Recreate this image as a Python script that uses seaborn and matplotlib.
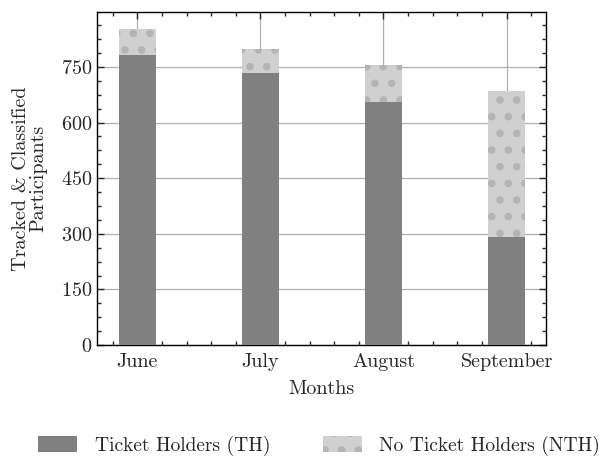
import pandas as pd
import matplotlib
matplotlib.use("Agg")
import matplotlib.pyplot as plt
import seaborn as sns
from matplotlib.ticker import AutoMinorLocator, MultipleLocator

months = ["June", "July", "August", "September"]
ticket_holders = [782, 734, 655, 291]
no_ticket_holders = [70, 64, 100, 394]

df = pd.DataFrame({
    "Month": months,
    "TH": ticket_holders,
    "NTH": no_ticket_holders,
})
df["Total"] = df["TH"] + df["NTH"]

sns.set_style("ticks")
plt.rcParams["font.family"] = "serif"
plt.rcParams["font.serif"] = ["cmr10", "DejaVu Serif"]
plt.rcParams["axes.formatter.use_mathtext"] = True
plt.rcParams["mathtext.fontset"] = "cm"
plt.rcParams["font.size"] = 14.5
plt.rcParams["hatch.linewidth"] = 3

fig, ax = plt.subplots(figsize=(6.08, 4.62), dpi=100)
fig.subplots_adjust(left=0.16, right=0.898, top=0.974, bottom=0.253)

sns.barplot(data=df, x="Month", y="Total", color="#d0d0d0", saturation=1,
            width=0.3, hatch=".", edgecolor="#b4b4b4", linewidth=0,
            label="No Ticket Holders (NTH)", ax=ax, zorder=2)
sns.barplot(data=df, x="Month", y="TH", color="#808080", saturation=1,
            width=0.3, linewidth=0, label="Ticket Holders (TH)",
            ax=ax, zorder=3)

ax.grid(True, which="major", color="#b0b0b0", linewidth=0.9)
ax.set_axisbelow(True)

ax.set_xlim(-0.325, 3.32)
ax.set_ylim(0, 898)
ax.yaxis.set_major_locator(MultipleLocator(150))
ax.yaxis.set_minor_locator(AutoMinorLocator(4))
ax.xaxis.set_minor_locator(MultipleLocator(0.2))
ax.tick_params(which="both", direction="in", top=True, right=True, width=1)
ax.tick_params(which="major", length=5)
ax.tick_params(which="minor", length=3)
ax.tick_params(axis="x", pad=6)
for s in ax.spines.values():
    s.set_linewidth(1)
    s.set_color("black")

ax.set_xlabel("Months", labelpad=6)
ax.set_ylabel("Tracked & Classified\nParticipants", linespacing=0.95, labelpad=10)

handles, labels = ax.get_legend_handles_labels()
if ax.get_legend() is not None:
    ax.get_legend().remove()
fig.legend(handles[::-1], labels[::-1], loc="lower center",
           bbox_to_anchor=(0.525, -0.025), ncol=2, frameon=False,
           fontsize=14, handlelength=2, handleheight=0.9,
           handletextpad=0.9, columnspacing=2.7)

fig.savefig("out.png", dpi=100)
